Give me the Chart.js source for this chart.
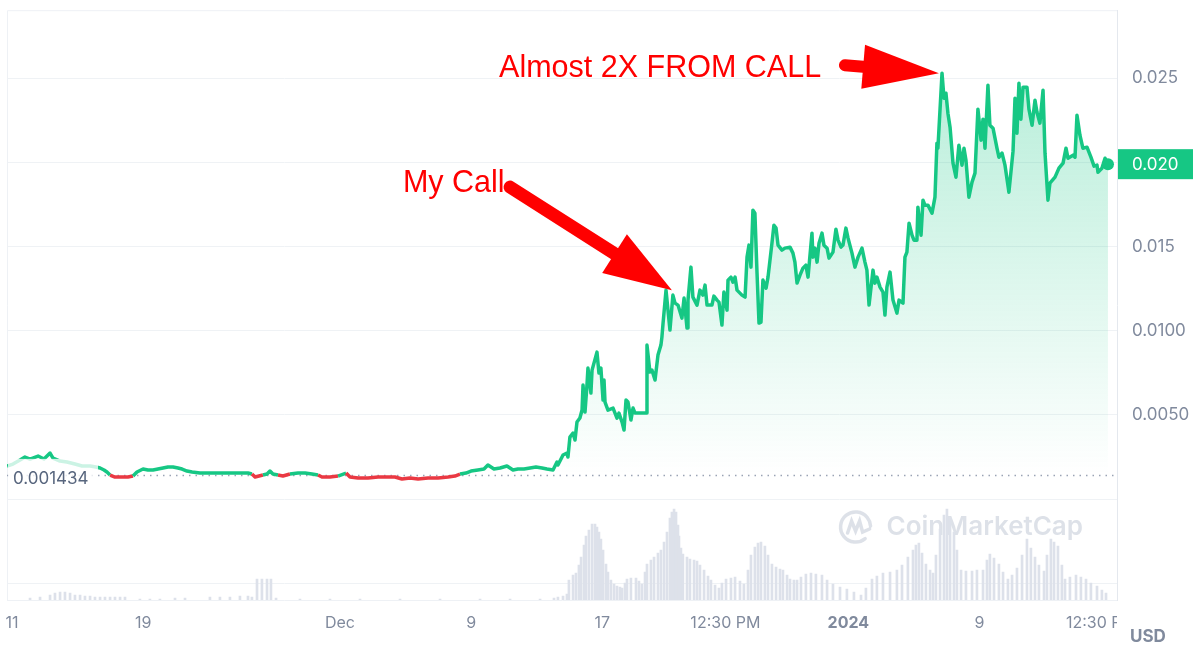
<!DOCTYPE html>
<html><head><meta charset="utf-8">
<script src="https://cdn.jsdelivr.net/npm/chart.js@4.4.1/dist/chart.umd.min.js"></script>
<style>html,body{margin:0;padding:0;background:#fff;overflow:hidden}#wrap{width:1200px;height:663px;position:relative}</style>
</head><body><div id="wrap"><canvas id="c" width="1200" height="663"></canvas></div>
<script>
// ---- data (days since 11 Nov 2023, price in USD) ----
const priceDays = [
-0.30,0.06,0.49,0.79,1.10,1.59,1.95,2.32,2.50,2.93,
3.35,3.84,4.27,4.76,5.12,5.37,5.61,5.79,5.98,6.28,
6.71,7.07,7.38,7.62,7.99,8.29,8.60,8.90,9.21,9.51,
9.82,10.12,10.37,10.67,10.98,11.46,12.07,12.68,13.29,13.90,
14.39,14.63,14.82,15.06,15.30,15.55,15.73,15.91,16.22,16.52,
16.95,17.44,17.87,18.29,18.66,18.90,19.39,19.88,20.37,20.61,
21.10,21.71,22.32,22.74,23.35,23.78,24.27,24.76,25.37,25.98,
26.59,27.01,27.32,27.68,27.99,28.41,28.78,29.02,29.39,29.76,
30.18,30.55,30.85,31.22,31.59,31.95,32.32,32.62,32.99,33.23,
33.29,33.60,33.84,33.90,34.02,34.21,34.33,34.45,34.63,34.76,
34.82,34.94,35.06,35.12,35.30,35.37,35.67,35.79,35.91,36.04,
36.10,36.16,36.34,36.65,36.89,37.01,37.20,37.32,37.44,37.56,
37.74,37.87,37.99,38.66,38.72,38.90,39.02,39.21,39.39,39.57,
39.63,39.70,39.88,40.00,40.12,40.30,40.43,40.61,40.85,40.98,
41.16,41.22,41.40,41.52,41.77,41.95,42.13,42.26,42.38,42.68,
42.80,42.99,43.11,43.29,43.41,43.60,43.66,43.84,43.96,44.09,
44.21,44.51,44.70,44.82,44.94,45.06,45.18,45.30,45.43,45.55,
45.67,45.79,45.98,46.10,46.34,46.46,46.59,46.71,46.95,47.13,
47.44,47.62,47.74,47.87,48.05,48.23,48.41,48.54,48.78,48.84,
48.96,49.09,49.21,49.39,49.51,49.70,49.82,50.06,50.24,50.37,
50.55,50.67,50.85,50.98,51.22,51.40,51.59,51.83,52.01,52.13,
52.26,52.50,52.62,52.74,52.93,53.11,53.23,53.35,53.54,53.72,
53.96,54.09,54.33,54.45,54.57,54.70,54.88,55.00,55.18,55.24,
55.43,55.55,55.67,55.85,56.10,56.28,56.40,56.46,56.71,56.83,
56.95,57.07,57.20,57.38,57.56,57.74,57.93,58.05,58.17,58.35,
58.54,58.72,58.90,59.09,59.21,59.33,59.51,59.63,59.82,60.06,
60.18,60.37,60.55,60.79,61.04,61.16,61.28,61.40,61.52,61.65,
61.89,62.01,62.20,62.38,62.50,62.68,62.87,62.99,63.17,63.29,
63.60,63.84,64.09,64.27,64.39,64.70,64.82,64.94,65.12,65.30,
65.55,65.79,65.98,66.16,66.22,66.46,66.65,66.83];
const priceUsd = [
0.001960,0.002078,0.002316,0.002494,0.002375,0.002553,0.002375,0.002732,0.002435,0.002257,
0.002197,0.002078,0.001960,0.001960,0.001900,0.001841,0.001722,0.001603,0.001425,0.001306,
0.001306,0.001306,0.001366,0.001603,0.001781,0.001722,0.001722,0.001781,0.001841,0.001900,
0.001900,0.001841,0.001781,0.001663,0.001603,0.001544,0.001544,0.001544,0.001544,0.001544,
0.001544,0.001485,0.001306,0.001366,0.001425,0.001485,0.001663,0.001485,0.001425,0.001366,
0.001485,0.001544,0.001544,0.001485,0.001425,0.001306,0.001306,0.001366,0.001544,0.001306,
0.001247,0.001247,0.001306,0.001306,0.001306,0.001188,0.001247,0.001188,0.001247,0.001247,
0.001306,0.001366,0.001485,0.001544,0.001663,0.001722,0.001781,0.002019,0.001781,0.001841,
0.001960,0.001722,0.001781,0.001781,0.001841,0.001900,0.001841,0.001781,0.001722,0.002197,
0.002019,0.002613,0.002732,0.002494,0.003682,0.003919,0.003504,0.004572,0.004810,0.005285,
0.006770,0.005166,0.006770,0.007779,0.006295,0.007660,0.008729,0.007482,0.007779,0.005879,
0.007067,0.005760,0.005285,0.005404,0.004810,0.005107,0.004572,0.004097,0.005879,0.005760,
0.004691,0.005404,0.005107,0.005107,0.009145,0.007542,0.007660,0.007067,0.008551,0.009145,
0.009620,0.010451,0.012411,0.011223,0.010036,0.012114,0.011639,0.011520,0.010748,0.011936,
0.010154,0.011817,0.013777,0.011995,0.011520,0.012411,0.012114,0.012708,0.011520,0.011520,
0.012055,0.011817,0.011698,0.010333,0.012292,0.011223,0.013005,0.013183,0.012886,0.013183,
0.012411,0.012114,0.011995,0.014371,0.015083,0.013777,0.017162,0.016983,0.013420,0.010451,
0.010511,0.013005,0.012530,0.013183,0.015202,0.016271,0.016093,0.015083,0.014786,0.014905,
0.014964,0.014608,0.014074,0.012827,0.013302,0.013717,0.013895,0.013183,0.015796,0.014371,
0.014905,0.014074,0.015202,0.015796,0.015083,0.014905,0.014311,0.014667,0.016033,0.015380,
0.014964,0.015083,0.016093,0.015499,0.014608,0.013777,0.014371,0.014905,0.014074,0.013599,
0.011520,0.013599,0.012827,0.013183,0.012589,0.012292,0.010926,0.012589,0.013480,0.011817,
0.011045,0.011817,0.011639,0.014371,0.014667,0.016390,0.015677,0.015380,0.015380,0.017340,
0.015677,0.017755,0.017458,0.017458,0.016983,0.017933,0.021140,0.020843,0.025297,0.023812,
0.024109,0.022922,0.022090,0.019952,0.019121,0.021021,0.019834,0.020843,0.020131,0.017933,
0.018824,0.019359,0.023159,0.021318,0.022565,0.020843,0.024584,0.022209,0.022031,0.020843,
0.020309,0.020546,0.019834,0.018230,0.020665,0.023812,0.021734,0.024703,0.022565,0.024466,
0.024466,0.023159,0.022209,0.023694,0.022981,0.022328,0.024287,0.020546,0.017755,0.018765,
0.019121,0.019656,0.019952,0.020843,0.020249,0.020428,0.020309,0.022803,0.021615,0.020843,
0.020903,0.020309,0.019774,0.019834,0.019418,0.019656,0.020249,0.019893];
const volumeDays = [
1.10,1.71,2.32,2.62,2.93,3.23,3.54,3.84,4.15,4.45,
4.76,5.06,5.37,5.67,5.98,6.28,6.59,6.89,7.80,8.41,
9.02,9.94,10.55,12.07,12.68,13.29,13.90,14.39,14.63,14.94,
15.24,15.55,15.79,16.10,17.56,19.39,21.22,23.66,26.10,28.54,
30.37,32.20,33.05,33.29,33.60,33.84,
33.96,34.21,34.39,34.57,34.70,34.88,35.00,35.18,35.37,35.55,
35.67,35.79,35.91,36.04,36.22,36.34,36.52,36.71,36.89,37.07,
37.20,37.38,37.50,37.74,38.05,38.23,38.41,38.60,38.72,38.96,
39.15,39.39,39.57,39.76,39.94,40.12,40.24,40.37,40.49,40.61,
40.67,40.79,40.91,41.16,41.34,41.59,41.77,41.95,42.20,42.44,
42.62,42.87,43.11,43.29,43.54,43.84,44.09,44.39,44.63,44.88,
45.06,45.30,45.49,45.67,45.91,46.10,46.34,46.59,46.83,47.01,
47.26,47.44,47.68,47.87,48.11,48.41,48.72,49.02,49.39,49.70,
50.06,50.49,50.91,51.34,51.77,52.07,52.44,52.74,53.11,53.54,
53.96,54.27,54.63,54.94,55.12,55.30,55.49,55.73,55.98,56.16,
56.34,56.59,56.83,57.01,57.20,57.44,57.62,57.87,58.17,58.54,
58.84,59.21,59.45,59.63,59.88,60.18,60.43,60.73,60.98,61.28,
61.59,61.89,62.13,62.38,62.62,62.93,63.11,63.35,63.54,63.78,
64.02,64.21,64.51,64.88,65.18,65.49,65.79,66.16,66.46,66.71];
const volumeK = [
2,3,5,7,8,8,7,5,5,4,
4,3,3,3,3,3,3,3,1,1,
1,2,2,3,3,3,4,4,3,21,
21,21,21,2,1,1,1,1,1,1,
1,1,2,3,4,6,
20,25,27,35,43,55,64,70,76,76,
73,68,61,50,36,28,20,16,14,13,
12,17,21,22,22,19,16,28,36,40,
43,47,50,58,68,82,88,91,88,75,
64,52,46,43,41,40,39,35,30,24,
20,15,12,17,21,22,23,19,16,30,
45,53,57,58,54,45,36,33,31,30,
25,21,20,20,23,26,27,26,25,20,
16,13,11,8,5,12,21,24,27,28,
30,35,43,50,55,57,47,36,30,27,
45,71,85,91,82,68,50,30,29,29,
30,30,40,46,42,36,28,21,25,32,
45,61,52,43,35,29,45,61,58,54,
35,21,23,25,23,21,17,14,10,7];
const baselinePrice = 0.001434;
const priceTicks = [-0.005, 0, 0.005, 0.010, 0.015, 0.020, 0.025];
const priceTickLabels = ['', '', '0.0050', '0.0100', '0.015', '0.020', '0.025'];
const dateTicks = [0, 8, 20, 28, 36, 43.5, 51, 59, 66.4];
const dateTickLabels = ['11', '19', 'Dec', '9', '17', '12:30 PM', '2024', '9', '12:30 PM'];
const noteTexts = ['My Call', 'Almost 2X FROM CALL'];
const noteTextDays = [23.84, 29.70];
const noteTextPrices = [0.01876, 0.02559];
const noteTailDays = [30.37, 50.79];
const noteTailPrices = [0.01853, 0.02577];
const noteTipDays = [40.24, 56.52];
const noteTipPrices = [0.01241, 0.02530];

// ---- drawing ----
const GREEN = '#16c784', RED = '#ea3943', GREY = '#808a9d';
Chart.defaults.font.family = 'Inter';
const arrowStyle = [{shaft:13, head:68, width:46}, {shaft:12, head:76, width:44}];

function drawArrow(ctx, x0, y0, x1, y1, st) {
  const ang = Math.atan2(y1 - y0, x1 - x0);
  const c = Math.cos(ang), s = Math.sin(ang);
  const bx = x1 - c * st.head, by = y1 - s * st.head;
  ctx.lineCap = 'round'; ctx.lineWidth = st.shaft;
  ctx.beginPath(); ctx.moveTo(x0, y0); ctx.lineTo(bx + c * 3, by + s * 3); ctx.stroke();
  const nx = -s, ny = c;
  ctx.beginPath(); ctx.moveTo(x1, y1);
  ctx.lineTo(bx + nx * st.width / 2, by + ny * st.width / 2);
  ctx.lineTo(bx - nx * st.width / 2, by - ny * st.width / 2);
  ctx.closePath(); ctx.fill();
}

const overlay = {
  id: 'overlay',
  beforeDatasetsDraw(chart) {
    const {ctx, chartArea: a, scales: {y}} = chart;
    ctx.save();
    ctx.strokeStyle = '#eef1f5'; ctx.lineWidth = 1;
    ctx.beginPath();
    ctx.moveTo(a.left + 0.5, a.bottom); ctx.lineTo(a.left + 0.5, a.top + 0.5); ctx.lineTo(a.right, a.top + 0.5);
    ctx.stroke();
    // watermark
    ctx.fillStyle = 'rgba(150,162,184,0.32)'; ctx.strokeStyle = 'rgba(150,162,184,0.32)';
    ctx.font = '600 26px Inter'; ctx.textAlign = 'right'; ctx.textBaseline = 'middle';
    const wx = a.right - 34, wy = a.bottom - 73;
    ctx.fillText('CoinMarketCap', wx, wy);
    const tw = ctx.measureText('CoinMarketCap').width;
    const cx = wx - tw - 31, cy = wy;
    ctx.lineWidth = 3.5; ctx.lineCap = 'round';
    ctx.beginPath(); ctx.arc(cx, cy, 15, 0.28 * Math.PI, 1.98 * Math.PI); ctx.stroke();
    ctx.beginPath(); ctx.moveTo(cx - 8, cy + 6); ctx.lineTo(cx - 4, cy - 6); ctx.lineTo(cx, cy + 4);
    ctx.lineTo(cx + 4, cy - 6); ctx.lineTo(cx + 7, cy + 5); ctx.lineTo(cx + 14, cy + 2); ctx.stroke();
    // baseline dotted
    const by = Math.round(y.getPixelForValue(baselinePrice)) + 0.5;
    ctx.setLineDash([1.5, 5]); ctx.strokeStyle = '#9aa3b5'; ctx.lineWidth = 1.5; ctx.lineCap = 'butt';
    ctx.beginPath(); ctx.moveTo(a.left, by); ctx.lineTo(a.right, by); ctx.stroke();
    ctx.restore();
  },
  afterDatasetsDraw(chart) {
    const {ctx, chartArea: a, scales: {x, y}} = chart;
    ctx.save();
    // baseline label
    const by = y.getPixelForValue(baselinePrice);
    ctx.fillStyle = 'rgba(255,255,255,0.78)';
    ctx.fillRect(a.left + 1, by - 16, 90, 33);
    ctx.fillStyle = '#58667e'; ctx.font = '17px Inter'; ctx.textAlign = 'left'; ctx.textBaseline = 'middle';
    ctx.fillText(String(baselinePrice), a.left + 6, by + 4);
    // last price tag
    const last = priceUsd[priceUsd.length - 1];
    const ly = y.getPixelForValue(last);
    ctx.fillStyle = GREEN; ctx.fillRect(a.right + 1, ly - 15, 75, 30);
    ctx.fillStyle = '#ffffff'; ctx.font = '17px Inter';
    ctx.fillText(last.toFixed(3), a.right + 15, ly + 1);
    // annotations
    ctx.fillStyle = '#ff0000'; ctx.strokeStyle = '#ff0000';
    ctx.font = '30.5px "Liberation Sans"'; ctx.textAlign = 'left'; ctx.textBaseline = 'middle';
    for (let i = 0; i < noteTexts.length; i++) {
      ctx.fillText(noteTexts[i], x.getPixelForValue(noteTextDays[i]), y.getPixelForValue(noteTextPrices[i]));
      drawArrow(ctx, x.getPixelForValue(noteTailDays[i]), y.getPixelForValue(noteTailPrices[i]),
        x.getPixelForValue(noteTipDays[i]), y.getPixelForValue(noteTipPrices[i]), arrowStyle[i]);
    }
    ctx.restore();
  },
  afterDraw(chart) {
    const {ctx, chartArea: a, width, height} = chart;
    ctx.save();
    ctx.fillStyle = '#ffffff';
    ctx.fillRect(a.right, a.bottom + 2, width - a.right, height - a.bottom - 2);
    ctx.fillStyle = GREY; ctx.font = 'bold 17px Inter'; ctx.textAlign = 'left'; ctx.textBaseline = 'middle';
    ctx.fillText('USD', a.right + 13, a.bottom + 37);
    ctx.restore();
  }
};

new Chart(document.getElementById('c'), {
  data: {
    datasets: [
      {
        type: 'line', label: 'Price', yAxisID: 'y', order: 0,
        data: priceDays.map((d, i) => ({x: d, y: priceUsd[i]})),
        borderColor: GREEN, borderWidth: 3.5, tension: 0, borderJoinStyle: 'round',
        pointRadius: c => (c.dataIndex === priceUsd.length - 1 ? 6 : 0),
        pointBackgroundColor: GREEN, pointBorderWidth: 0, pointHoverRadius: 0,
        segment: {borderColor: s => ((s.p0.parsed.y + s.p1.parsed.y) / 2 < baselinePrice ? RED : GREEN)},
        backgroundColor: c => {
          const ch = c.chart; const {ctx, chartArea, scales} = ch;
          if (!chartArea || !scales.y) return 'rgba(22,199,132,0.15)';
          const top = scales.y.getPixelForValue(Math.max(...priceUsd));
          const bot = scales.y.getPixelForValue(baselinePrice);
          const g = ctx.createLinearGradient(0, top, 0, bot);
          g.addColorStop(0, 'rgba(22,199,132,0.30)');
          g.addColorStop(1, 'rgba(22,199,132,0.0)');
          return g;
        },
        fill: {target: {value: baselinePrice}, below: 'rgba(0,0,0,0)'}
      },
      {
        type: 'bar', label: 'Volume', yAxisID: 'yv', order: 1,
        data: volumeDays.map((d, i) => ({x: d, y: volumeK[i]})),
        backgroundColor: '#dde1ea', barThickness: 2
      }
    ]
  },
  options: {
    responsive: false, animation: false, devicePixelRatio: 1,
    layout: {padding: {left: 7, top: 10, right: 0, bottom: 0}},
    plugins: {legend: {display: false}, tooltip: {enabled: false}},
    scales: {
      x: {
        type: 'linear', position: 'bottom', min: -0.305, max: 67.38, offset: false,
        afterBuildTicks: s => { s.ticks = dateTicks.map(v => ({value: v})); },
        afterFit: s => { s.height = 63; },
        ticks: {
          autoSkip: false, maxRotation: 0, padding: 0, color: GREY,
          font: c => ({family: 'Inter', size: 16, weight: dateTickLabels[c.index] === '2024' ? 'bold' : 'normal'}),
          callback: (v, i) => dateTickLabels[i]
        },
        grid: {display: true, offset: false, drawOnChartArea: false, drawTicks: true, tickLength: 14, tickColor: 'rgba(0,0,0,0)', color: 'rgba(0,0,0,0)'},
        border: {display: true, color: '#eef1f5'}
      },
      y: {
        type: 'linear', position: 'right', min: -0.005998, max: 0.02904,
        afterBuildTicks: s => { s.ticks = priceTicks.map(v => ({value: v})); },
        afterFit: s => { s.width = 83; },
        ticks: {padding: 0, color: GREY, font: {family: 'Inter', size: 17}, crossAlign: 'near',
          callback: (v, i) => priceTickLabels[i]},
        grid: {color: '#eff2f5', drawTicks: true, tickLength: 15, tickColor: 'rgba(0,0,0,0)'},
        border: {display: true, color: '#e4e8ee'}
      },
      yv: {type: 'linear', display: false, min: 0, max: 590}
    }
  },
  plugins: [overlay]
});
</script></body></html>
